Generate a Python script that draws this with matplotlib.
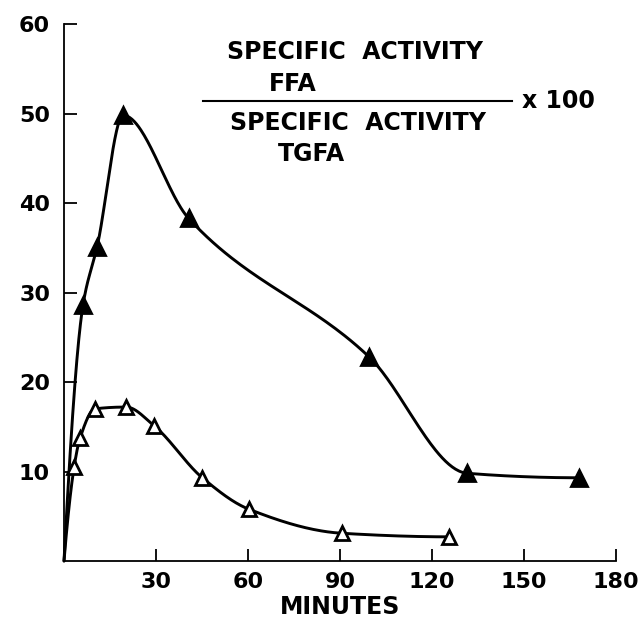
import numpy as np
import matplotlib
matplotlib.use("Agg")
import matplotlib.pyplot as plt

# Data
ffa_x = [0, 6.2, 10.8, 19.3, 40.6, 99.5, 131.5, 167.8]
ffa_y = [0, 28.6, 35.1, 49.8, 38.3, 22.8, 9.8, 9.3]
tg_x = [0, 3.3, 5.2, 10.1, 20.3, 29.4, 45.1, 60.2, 90.6, 125.6]
tg_y = [0, 10.5, 13.7, 17.0, 17.2, 15.1, 9.3, 5.8, 3.1, 2.7]
x_ticks = [30, 60, 90, 120, 150, 180]
y_ticks = [10, 20, 30, 40, 50, 60]

FONT = "DejaVu Sans"


def pchip(xs, ys, n=60):
    """Monotone (Fritsch-Carlson) cubic drawn through the data points."""
    x = np.asarray(xs, float)
    y = np.asarray(ys, float)
    h = np.diff(x)
    d = np.diff(y) / h
    m = np.zeros_like(y)
    for k in range(1, len(x) - 1):
        if d[k - 1] * d[k] > 0:
            w1 = 2 * h[k] + h[k - 1]
            w2 = h[k] + 2 * h[k - 1]
            m[k] = (w1 + w2) / (w1 / d[k - 1] + w2 / d[k])

    def end(h0, h1, d0, d1):
        s = ((2 * h0 + h1) * d0 - h0 * d1) / (h0 + h1)
        if np.sign(s) != np.sign(d0):
            s = 0.0
        elif np.sign(d0) != np.sign(d1) and abs(s) > abs(3 * d0):
            s = 3 * d0
        return s

    m[0] = end(h[0], h[1], d[0], d[1])
    m[-1] = end(h[-1], h[-2], d[-1], d[-2])
    X, Y = [], []
    for k in range(len(x) - 1):
        t = np.linspace(0, 1, n)
        h00 = 2 * t**3 - 3 * t**2 + 1
        h10 = t**3 - 2 * t**2 + t
        h01 = -2 * t**3 + 3 * t**2
        h11 = t**3 - t**2
        X.append(x[k] + t * h[k])
        Y.append(h00 * y[k] + h10 * h[k] * m[k] + h01 * y[k + 1] + h11 * h[k] * m[k + 1])
    return np.concatenate(X), np.concatenate(Y)


fig = plt.figure(figsize=(6.4, 6.19), dpi=100)
ax = fig.add_axes([0.1, 0.0937, 0.8625, 0.8675])
ax.set_xlim(0, 180)
ax.set_ylim(0, 60)

for xs, ys, fc in [(ffa_x, ffa_y, "black"), (tg_x, tg_y, "white")]:
    cx, cy = pchip(xs, ys)
    ax.plot(cx, cy, color="black", lw=2.1, solid_capstyle="round", clip_on=False, zorder=2)
    ax.plot(xs[1:], ys[1:], ls="none", marker="^", ms=11 if fc == "black" else 10,
            mfc=fc, mec="black", mew=2.0, zorder=3, clip_on=False)

for s in ["top", "right"]:
    ax.spines[s].set_visible(False)
for s in ["left", "bottom"]:
    ax.spines[s].set_linewidth(1.3)

ax.set_xticks(x_ticks)
ax.set_yticks(y_ticks)
ax.set_xticklabels([str(v) for v in x_ticks])
ax.set_yticklabels([str(v) for v in y_ticks])
ax.tick_params(axis="both", direction="in", length=9, width=1.3, labelsize=16)
ax.tick_params(axis="y", pad=10)
ax.tick_params(axis="x", pad=8)
for lab in ax.get_xticklabels() + ax.get_yticklabels():
    lab.set_fontweight("bold")
    lab.set_family(FONT)

ax.set_xlabel("MINUTES", fontsize=17, fontweight="bold", family=FONT, labelpad=2)

# fraction label
fs = 17
fig.text(355 / 640, 1 - 52 / 619, "SPECIFIC  ACTIVITY", ha="center", va="center",
         fontsize=fs, fontweight="bold", family=FONT)
fig.text(293 / 640, 1 - 84 / 619, "FFA", ha="center", va="center",
         fontsize=fs, fontweight="bold", family=FONT)
fig.add_artist(plt.Line2D([203 / 640, 512 / 640], [1 - 101 / 619, 1 - 101 / 619],
                          color="black", lw=1.5, transform=fig.transFigure))
fig.text(358 / 640, 1 - 123 / 619, "SPECIFIC  ACTIVITY", ha="center", va="center",
         fontsize=fs, fontweight="bold", family=FONT)
fig.text(311 / 640, 1 - 154 / 619, "TGFA", ha="center", va="center",
         fontsize=fs, fontweight="bold", family=FONT)
fig.text(522 / 640, 1 - 101 / 619, "x 100", ha="left", va="center",
         fontsize=fs, fontweight="bold", family=FONT)

fig.savefig("out.png", dpi=100)
